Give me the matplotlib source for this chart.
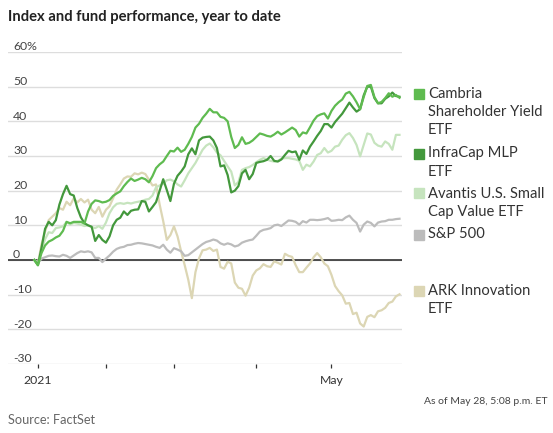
import numpy as np
import pandas as pd
import matplotlib
matplotlib.use("Agg")
import matplotlib.pyplot as plt
import matplotlib.transforms as mtransforms
from matplotlib.patches import Rectangle

plt.rcParams["font.family"] = ["Lato", "DejaVu Sans"]

W, H = 553, 433

# trading days, Dec 31 2020 (base) -> May 28 2021
holidays = pd.to_datetime(["2021-01-01", "2021-01-18", "2021-02-15", "2021-04-02"])
dates = pd.bdate_range("2020-12-31", "2021-05-28")
dates = dates[~dates.isin(holidays)]
days = np.arange(len(dates))

# % change year to date, one value per trading day
infracap = [
    0, -1.5, 3.5, 9, 11, 10, 11.5, 16, 19, 21.4,
    19, 18.6, 15, 12.3, 10.6, 10, 9.6, 5.5, 7.2, 5.8,
    5, 6.8, 10, 11.6, 12.2, 14, 13, 14.2, 14.5, 14.6,
    17, 16.8, 14, 15.3, 16.7, 20, 23.3, 20.2, 17, 22,
    24.3, 25.5, 27, 30.5, 32.2, 30.5, 34.5, 35.3, 35.5, 35.6,
    34.5, 32.3, 27, 27.3, 24.5, 19.5, 20, 21.3, 25, 26,
    23.3, 24.8, 28, 28.3, 28.5, 28.9, 30, 28.6, 28.4, 29,
    30.3, 31.5, 31.1, 31.3, 28.9, 31.6, 30.6, 32.7, 34.2, 35.8,
    37.2, 39.2, 39.2, 38.2, 39.8, 41, 42.2, 43.8, 45.4, 44,
    42.8, 43.5, 47.5, 50, 50, 46.7, 45.2, 45.2, 46.5, 47.2,
    48.3, 47.3, 47.1,
]
cambria = [
    0, -1.5, 2, 4.2, 5.3, 5.8, 6.5, 7, 8.4, 11,
    10.6, 11, 11, 11, 10.5, 14, 16.2, 17.2, 17, 16.6,
    16.8, 17.3, 18.5, 19.2, 19.8, 21.3, 22.5, 23.5, 22.8, 23.2,
    23.7, 23.3, 22.4, 24.2, 26.5, 27.6, 28.4, 30, 31.5, 31.3,
    32.4, 31.2, 31.8, 33.5, 35.5, 38.2, 39.3, 41, 42.2, 43.6,
    42.6, 42.6, 41.3, 41, 40, 35.5, 32.3, 33.2, 35.4, 33.5,
    33.8, 34.5, 35.5, 36.5, 36.2, 35.8, 35.6, 36.2, 37, 36.2,
    36.8, 37.5, 38.2, 37.5, 35.6, 36.8, 36.5, 38.3, 40.2, 41.5,
    42, 42.3, 40.8, 43, 44.5, 45.5, 46.3, 48, 48.5, 47.2,
    45.5, 43.5, 47, 50.2, 50.5, 47, 45.2, 45.6, 46.7, 48.1,
    47.1, 47.6, 46.8,
]
avantis = [
    0, -1, 3, 6, 8, 7.8, 9.2, 9.4, 9.7, 11,
    10.2, 10.7, 10.5, 10.2, 9.8, 10, 9.5, 9.2, 9.8, 9,
    10.8, 13.5, 15.2, 16.2, 16.4, 16.2, 16.5, 16.3, 16.6, 16.8,
    17, 17.4, 17.6, 18.6, 21, 21.5, 22, 23, 23.2, 22.7,
    21.8, 21.2, 23, 25, 26.5, 28, 29.9, 31.8, 33, 33.6,
    32.5, 31, 30.2, 28.6, 27, 25.5, 21.5, 22.5, 26, 26.5,
    26.8, 27.4, 28.2, 28.9, 29.4, 29, 28.6, 28.4, 28.6, 29.2,
    29.4, 29.4, 29.2, 29, 28.6, 26, 27.5, 27, 28.4, 30.3,
    30.8, 32.3, 31, 31.5, 32.7, 33, 34.7, 36, 36.6, 35.2,
    33.2, 29.9, 33.2, 36.5, 36.2, 33.8, 33, 32.7, 34.2, 33.5,
    31.8, 36.1, 36.1,
]
sp500 = [
    0, -0.9, 0.4, 0.8, 1.2, 1.3, 1.1, 1, 1.5, 1.2,
    0.6, 1.3, 2, 2.5, 2.3, 2.5, 2.2, 0.6, 0.6, -0.6,
    0.4, 1.3, 2.4, 3.2, 3.6, 3.8, 4.3, 4.4, 4.7, 4.9,
    4.8, 4.6, 4.4, 4.2, 3.8, 3.5, 4.4, 3, 2.1, 3.4,
    3, 2.5, 1.2, 1.4, 2.2, 3, 3.8, 4.6, 5.2, 5.5,
    5.9, 5.6, 4.8, 4.4, 4.8, 4.5, 3.9, 4.2, 5, 5.4,
    5.7, 5.9, 7, 8.2, 8.7, 8.9, 9.2, 10, 10.2, 9.8,
    10.6, 11.4, 11.3, 11, 10.2, 11.2, 10.8, 11.6, 11.6, 11.5,
    11.6, 11.8, 12.1, 11.3, 11.4, 11.6, 11.5, 12.3, 12.8, 11.6,
    10.7, 8.2, 10.2, 11.1, 10.7, 9.7, 10.8, 11.1, 11.2, 11.6,
    11.6, 11.8, 11.9,
]
ark = [
    0, -1, 4.5, 8.2, 11.5, 12.5, 13.5, 15, 14.5, 16.8,
    15.8, 17.8, 16.6, 17.6, 16.6, 17.4, 14.5, 13.5, 15.3, 12.5,
    14.5, 15.5, 17.8, 20.3, 21.8, 23.5, 24.1, 24, 25, 24.7,
    25.2, 24.8, 23.2, 21.5, 21.8, 16, 11.2, 5.8, 7.2, 9.7,
    6.8, 2.5, -1.5, -5.7, -11, -3.5, 0.5, 2.8, 3, 3.5,
    2.6, 3, -2, -2.5, -0.5, -1, -6.5, -8, -8.3, -10.3,
    -8, -4.5, -3, -2.4, -1.2, -1.8, -2, -0.4, -0.8, -1.3,
    1.8, 1.2, 0.9, -1.5, -3.5, -3.5, -2.2, -1, 0.8, 2,
    0.8, -1, -1.8, -4.3, -7.5, -9, -10.2, -12.6, -12.4, -15.6,
    -15.2, -18.3, -19.2, -16.4, -15.9, -16.5, -14.8, -14.5, -13.8, -12.4,
    -12, -10.5, -9.9,
]

# drawing order (back to front)
series = [
    (ark, "#dcd6b4"),
    (sp500, "#bcbcbc"),
    (avantis, "#c6e4be"),
    (infracap, "#43983c"),
    (cambria, "#5fbb50"),
]

legend_items = [
    (["Cambria", "Shareholder Yield", "ETF"], "#5fbb50", 93.5),
    (["InfraCap MLP", "ETF"], "#43983c", 153.5),
    (["Avantis U.S. Small", "Cap Value ETF"], "#c6e4be", 193.5),
    (["S&P 500"], "#bcbcbc", 234.5),
    (["ARK Innovation", "ETF"], "#dcd6b4", 291),
]

y_ticks = list(range(-30, 61, 10))
y_labels = ["-30", "-20", "-10", "0", "10", "20", "30", "40", "50", "60%"]

# first trading day of each month
month_start = [i for i in range(1, len(dates)) if dates[i].month != dates[i - 1].month or i == 1]
x_labels = ["2021", "", "", "", "May"]

fig = plt.figure(figsize=(W / 100, H / 100), dpi=100)
ax = fig.add_axes([7.5 / W, 1 - 364 / H, (402 - 7.5) / W, (364 - 52) / H])

for vals, color in series:
    ax.plot(days, vals, color=color, linewidth=1.6, solid_joinstyle="round", zorder=3)

ax.axhline(0, color="#222222", linewidth=1.1, zorder=2)

ax.set_xlim(-7.5, 102.7)
ax.set_ylim(-30, 60)
ax.set_yticks(y_ticks)
ax.yaxis.grid(True, color="#dddddd", linewidth=1.0)
ax.tick_params(axis="y", length=0, labelleft=False)
for s in ax.spines.values():
    s.set_visible(False)

ax.set_xticks(month_start)
ax.set_xticklabels(x_labels)
ax.tick_params(axis="x", length=3, width=0.9, color="#333333", pad=5,
               labelsize=8.8, labelcolor="#333333")

trans = mtransforms.blended_transform_factory(ax.transAxes, ax.transData)
for v, lab in zip(y_ticks, y_labels):
    ax.annotate(lab, xy=(0.014, v), xycoords=trans, xytext=(0, 1.3),
                textcoords="offset points", va="baseline", ha="left",
                fontsize=8.8, color="#444444")

# title and notes
fig.text(8 / W, 1 - 17 / H, "Index and fund performance, year to date",
         fontsize=10.6, fontweight="bold", color="#222222", va="center", ha="left")
fig.text(8 / W, 1 - 420 / H, "Source: FactSet", fontsize=9.2, color="#666666",
         va="center", ha="left")
fig.text(548 / W, 1 - 402 / H, "As of May 28, 5:08 p.m. ET", fontsize=7.5,
         color="#444444", va="center", ha="right")

# legend on the right
for lines, color, y0 in legend_items:
    fig.patches.append(Rectangle((414 / W, 1 - (y0 + 5) / H), 10 / W, 10 / H,
                                 transform=fig.transFigure, color=color, zorder=5))
    for k, line in enumerate(lines):
        fig.text(428 / W, 1 - (y0 + k * 18.3) / H, line, fontsize=10.6,
                 color="#333333", va="center", ha="left")

plt.savefig("out.png", dpi=100)
plt.close()
